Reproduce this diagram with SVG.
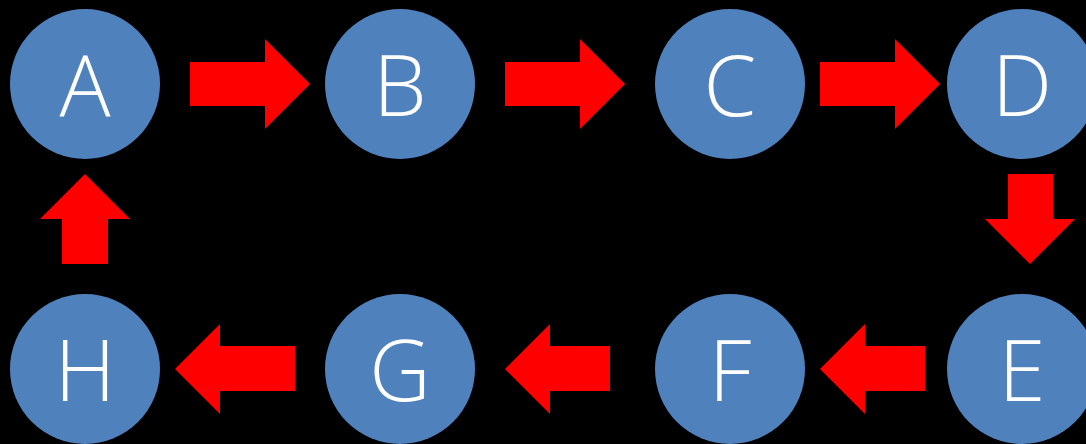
<svg xmlns="http://www.w3.org/2000/svg" width="1086" height="444" viewBox="0 0 1086 444">
<style>
.n{fill:#4f81bd}
.t{fill:#fff;font-family:"Open Sans","Noto Sans",sans-serif;font-weight:300;font-size:85px;text-anchor:middle}
.a{fill:#ff0000}
</style>
<rect width="1086" height="444" fill="#000"/>
<g id="connectors">
<polygon class="a" points="190,62 265,62 265,39 310,84 265,129 265,106 190,106"/>
<polygon class="a" points="505,62 580,62 580,39 625,84 580,129 580,106 505,106"/>
<polygon class="a" points="820,62 895,62 895,39 940,84 895,129 895,106 820,106"/>
<polygon class="a" points="1008,174 1053,174 1053,219 1075,219 1030,264 985,219 1008,219"/>
<polygon class="a" points="925,346 865,346 865,324 820,369 865,414 865,391 925,391"/>
<polygon class="a" points="610,346 550,346 550,324 505,369 550,414 550,391 610,391"/>
<polygon class="a" points="295,346 220,346 220,324 175,369 220,414 220,391 295,391"/>
<polygon class="a" points="62,264 108,264 108,219 130,219 85,174 40,219 62,219"/>
</g>
<g id="A"><circle class="n" cx="85" cy="84" r="75"/><text class="t" x="85" y="116">A</text></g>
<g id="B"><circle class="n" cx="400" cy="84" r="75"/><text class="t" x="400" y="116">B</text></g>
<g id="C"><circle class="n" cx="730" cy="84" r="75"/><text class="t" x="730" y="116">C</text></g>
<g id="D"><circle class="n" cx="1022" cy="84" r="75"/><text class="t" x="1022" y="116">D</text></g>
<g id="E"><circle class="n" cx="1022" cy="369" r="75"/><text class="t" x="1022" y="401">E</text></g>
<g id="F"><circle class="n" cx="730" cy="369" r="75"/><text class="t" x="730" y="401">F</text></g>
<g id="G"><circle class="n" cx="400" cy="369" r="75"/><text class="t" x="400" y="401">G</text></g>
<g id="H"><circle class="n" cx="85" cy="369" r="75"/><text class="t" x="85" y="401">H</text></g>
</svg>
